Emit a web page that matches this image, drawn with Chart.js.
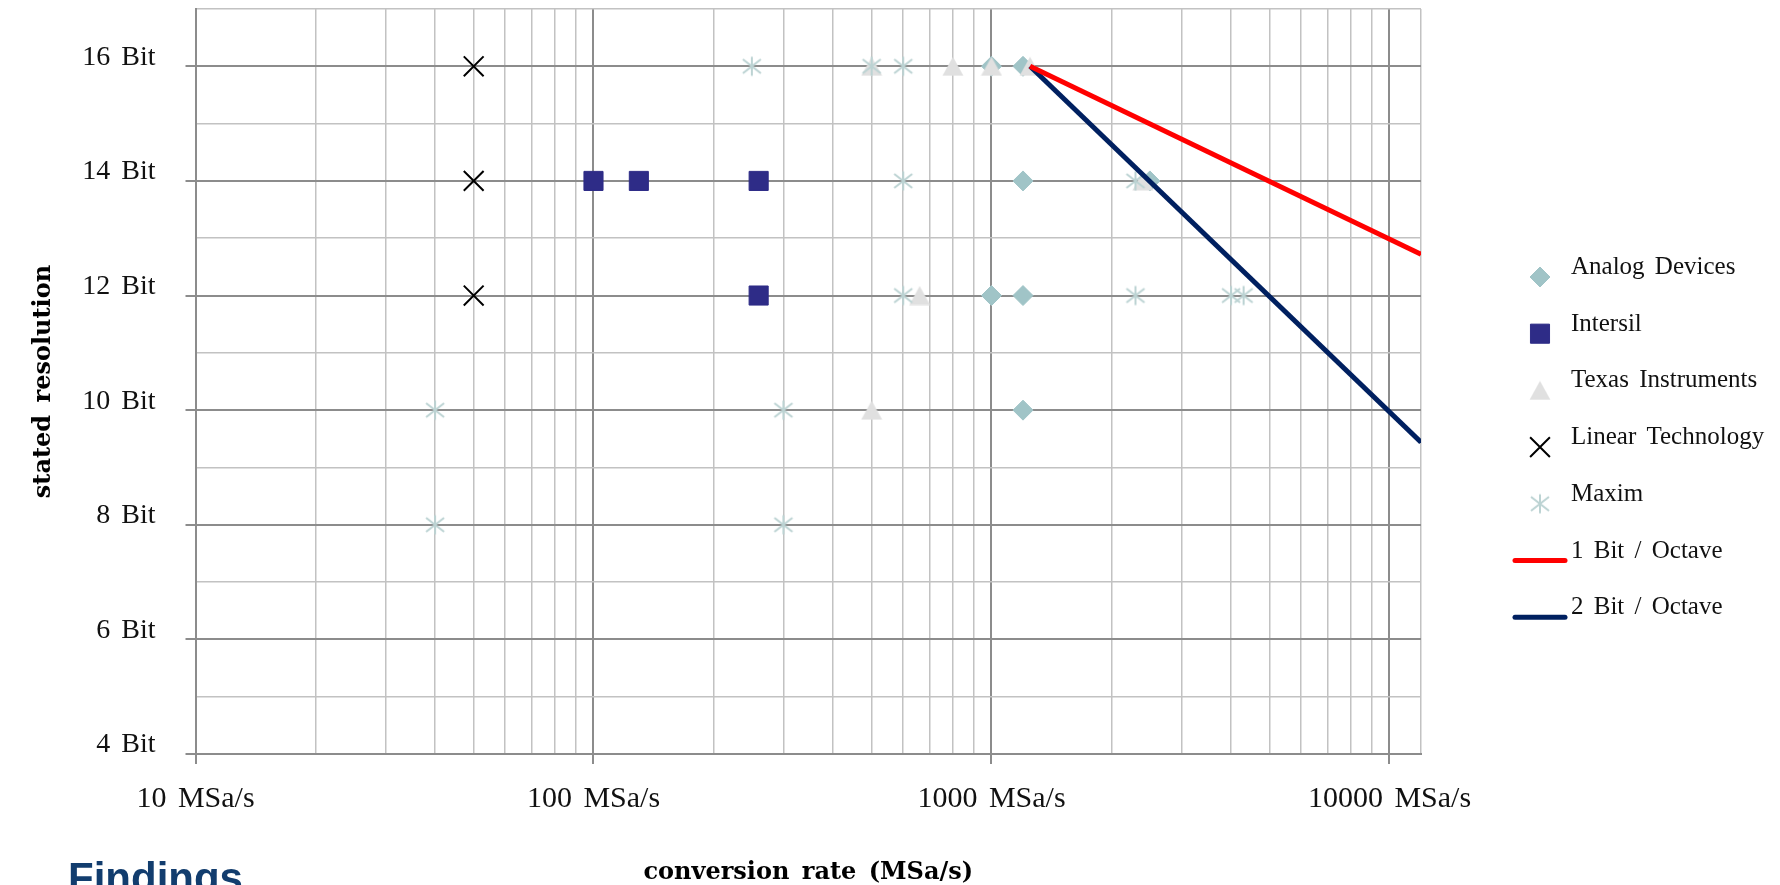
<!DOCTYPE html>
<html>
<head>
<meta charset="utf-8">
<title>ADC resolution vs. conversion rate</title>
<script src="https://cdn.jsdelivr.net/npm/chart.js@4.4.1/dist/chart.umd.min.js"></script>
<style>
  html, body { margin: 0; padding: 0; background: #fff; overflow: hidden; }
  #wrap { position: relative; width: 1780px; height: 885px; overflow: hidden; }
  #chart { position: absolute; left: 0; top: 0; }
  #findings {
    position: absolute; left: 68px; top: 857px; margin: 0;
    font: bold 42px 'Liberation Sans', Arial, sans-serif; line-height: 1;
    color: #123d6e;
  }
</style>
</head>
<body>
<div id="wrap">
  <canvas id="chart" width="1780" height="885"></canvas>
  <h2 id="findings">Findings</h2>
</div>
<script>
'use strict';

// ── Data: conversion rate (MSa/s) and stated resolution (bit) per vendor ──
const analogRate   = [1000, 1200, 1200, 2500, 1000, 1200, 1200];
const analogBits   = [16, 16, 14, 14, 12, 12, 10];

const intersilRate = [100, 130, 260, 260];
const intersilBits = [14, 14, 14, 12];

const tiRate       = [500, 800, 1000, 1250, 2400, 660, 500];
const tiBits       = [16, 16, 16, 16, 14, 12, 10];

const linearRate   = [50, 50, 50];
const linearBits   = [16, 14, 12];

const maximRate    = [250, 500, 600, 600, 2300, 600, 2300, 4000, 4300, 40, 300, 40, 300];
const maximBits    = [16, 16, 16, 14, 14, 12, 12, 12, 12, 10, 10, 8, 8];

// reference slopes, starting at 1250 MSa/s / 16 bit
const slopeRate    = [1250, 12000];
const oneBitOct    = [16, 12.72];
const twoBitOct    = [16, 9.44];

// ── Axes ───────────────────────────────────────────────────────
const X_MIN = 10;
const X_MAX = 12000;
const Y_MIN = 4;
const Y_MAX = 17;

const xTickValues = [10, 100, 1000, 10000];
const xTickLabels = ['10 MSa/s', '100 MSa/s', '1000 MSa/s', '10000 MSa/s'];
const yTickValues = [4, 6, 8, 10, 12, 14, 16];
const yTickLabels = ['4 Bit', '6 Bit', '8 Bit', '10 Bit', '12 Bit', '14 Bit', '16 Bit'];

// ── Style constants ────────────────────────────────────────────
const TEXT_FONT  = "'Liberation Serif', 'Times New Roman', serif";
const TITLE_FONT = "'DejaVu Serif', serif";
const MAJOR_GRID = '#8c8c8c';
const MINOR_GRID = '#c2c2c2';

// log grid: 1..9 within every decade, plus the right edge
const xGridValues = [];
xTickValues.forEach(d => {
  for (let k = 1; k <= 9; k++) {
    if (k * d <= X_MAX) xGridValues.push(k * d);
  }
});
if (!xGridValues.includes(X_MAX)) xGridValues.push(X_MAX);

const isDecade = v => xTickValues.includes(v);
const isEvenBit = v => yTickValues.includes(v);

const pts = (xs, ys) => xs.map((x, i) => ({ x, y: ys[i] }));

// ── Marker images not available as built-in point styles ──────
function markerCanvas(w, h, draw) {
  const c = document.createElement('canvas');
  c.width = w;
  c.height = h;
  draw(c.getContext('2d'), w, h);
  return c;
}

const triangleMarker = markerCanvas(22, 20, (g, w, h) => {
  g.fillStyle = '#e0e0e0';
  g.beginPath();
  g.moveTo(w / 2, 0.5);
  g.lineTo(w - 0.5, h - 0.5);
  g.lineTo(0.5, h - 0.5);
  g.closePath();
  g.fill();
});

const asteriskMarker = markerCanvas(22, 22, g => {
  g.strokeStyle = '#bcd3d3';
  g.lineWidth = 2;
  g.beginPath();
  g.moveTo(11, 1.5); g.lineTo(11, 20.5);
  g.moveTo(2, 4);    g.lineTo(20, 18);
  g.moveTo(20, 4);   g.lineTo(2, 18);
  g.stroke();
});

// ── Plugins ────────────────────────────────────────────────────
const wordSpacingPlugin = {
  id: 'wordSpacing',
  beforeDraw(chart) {
    chart.ctx.wordSpacing = '4px';
  },
};

const LEGEND_X     = 1540;
const LEGEND_TEXT  = 1571;
const LEGEND_TOP   = 277;
const LEGEND_STEP  = 56.7;

const sideLegendPlugin = {
  id: 'sideLegend',
  afterDraw(chart) {
    const { ctx } = chart;
    ctx.save();
    chart.data.datasets.forEach((ds, i) => {
      const y = LEGEND_TOP + i * LEGEND_STEP;
      if (ds.showLine) {
        ctx.strokeStyle = ds.borderColor;
        ctx.lineWidth   = ds.borderWidth;
        ctx.lineCap     = 'round';
        ctx.beginPath();
        ctx.moveTo(LEGEND_X - 25, y);
        ctx.lineTo(LEGEND_X + 25, y);
        ctx.stroke();
      } else {
        ctx.fillStyle   = ds.backgroundColor;
        ctx.strokeStyle = ds.borderColor;
        ctx.lineWidth   = ds.borderWidth;
        Chart.helpers.drawPoint(ctx, {
          pointStyle:  ds.pointStyle,
          radius:      ds.pointRadius,
          borderWidth: ds.borderWidth,
          rotation:    0,
        }, LEGEND_X, y);
      }
      ctx.fillStyle    = '#111';
      ctx.font         = `25px ${TEXT_FONT}`;
      ctx.textAlign    = 'left';
      ctx.textBaseline = 'alphabetic';
      ctx.fillText(ds.label, LEGEND_TEXT, y - 3);
    });
    ctx.restore();
  },
};

// ── Datasets ───────────────────────────────────────────────────
function pointSet(label, data, style, color, extra = {}) {
  return {
    label,
    data,
    pointStyle:       style,
    backgroundColor:  color,
    borderColor:      color,
    borderWidth:      1,
    pointRadius:      10,
    pointHoverRadius: 10,
    ...extra,
  };
}

function slopeSet(label, ys, color) {
  return {
    label,
    data:            pts(slopeRate, ys),
    showLine:        true,
    borderColor:     color,
    backgroundColor: color,
    borderWidth:     5,
    pointRadius:     0,
    pointHoverRadius: 0,
    order:           0,
  };
}

const datasets = [
  pointSet('Analog Devices', pts(analogRate, analogBits), 'rectRot', '#a0c4c7', { order: 5 }),
  pointSet('Intersil', pts(intersilRate, intersilBits), 'rect', '#2e2c87', { order: 4, pointRadius: 13.5, pointHoverRadius: 13.5 }),
  pointSet('Texas Instruments', pts(tiRate, tiBits), triangleMarker, '#e0e0e0', { order: 3 }),
  pointSet('Linear Technology', pts(linearRate, linearBits), 'crossRot', '#000000', { order: 2, borderWidth: 2, pointRadius: 14, pointHoverRadius: 14 }),
  pointSet('Maxim', pts(maximRate, maximBits), asteriskMarker, '#bcd3d3', { order: 1 }),
  slopeSet('1 Bit / Octave', oneBitOct, '#ff0000'),
  slopeSet('2 Bit / Octave', twoBitOct, '#002060'),
];

// ── Chart ──────────────────────────────────────────────────────
new Chart(document.getElementById('chart'), {
  type: 'scatter',
  data: { datasets },
  options: {
    responsive: false,
    animation:  false,
    events:     [],
    layout: {
      autoPadding: false,
      padding: { top: 9, right: 359, bottom: 0, left: 0 },
    },
    plugins: {
      legend:  { display: false },
      tooltip: { enabled: false },
    },
    scales: {
      x: {
        type: 'logarithmic',
        min:  X_MIN,
        max:  X_MAX,
        afterBuildTicks: scale => {
          scale.ticks = xGridValues.map(v => ({ value: v }));
        },
        afterFit: scale => {
          scale.height = 131;
          scale.paddingLeft = 0;
          scale.paddingRight = 0;
        },
        border: { display: true, color: MAJOR_GRID, width: 2 },
        grid: {
          color:      c => (c.tick && isDecade(c.tick.value) ? MAJOR_GRID : MINOR_GRID),
          lineWidth:  c => (c.tick && isDecade(c.tick.value) ? 2 : 1.5),
          tickColor:  c => (c.tick && isDecade(c.tick.value) ? MAJOR_GRID : 'rgba(0,0,0,0)'),
          tickWidth:  2,
          tickLength: 10,
        },
        ticks: {
          autoSkip:    false,
          maxRotation: 0,
          padding:     17,
          color:       '#111',
          font:        { family: TEXT_FONT, size: 30 },
          callback:    v => {
            const i = xTickValues.indexOf(v);
            return i >= 0 ? xTickLabels[i] : '';
          },
        },
        title: {
          display: true,
          text:    'conversion rate (MSa/s)',
          color:   '#000',
          font:    { family: TITLE_FONT, size: 24, weight: 'bold', lineHeight: 1 },
          padding: { top: 0, bottom: 0 },
        },
      },
      y: {
        type: 'linear',
        min:  Y_MIN,
        max:  Y_MAX,
        afterFit: scale => {
          scale.width = 195.5;
          scale.paddingTop = 0;
          scale.paddingBottom = 0;
        },
        border: { display: true, color: MAJOR_GRID, width: 2 },
        grid: {
          color:      c => (c.tick && isEvenBit(c.tick.value) ? MAJOR_GRID : MINOR_GRID),
          lineWidth:  c => (c.tick && isEvenBit(c.tick.value) ? 2 : 1.5),
          tickColor:  c => (c.tick && isEvenBit(c.tick.value) ? MAJOR_GRID : 'rgba(0,0,0,0)'),
          tickWidth:  2,
          tickLength: 10,
        },
        ticks: {
          stepSize:    1,
          autoSkip:    false,
          padding:     30,
          labelOffset: -9,
          color:       '#111',
          font:        { family: TEXT_FONT, size: 28 },
          callback:    v => {
            const i = yTickValues.indexOf(v);
            return i >= 0 ? yTickLabels[i] : '';
          },
        },
        title: {
          display: true,
          text:    'stated resolution',
          color:   '#000',
          font:    { family: TITLE_FONT, size: 24, weight: 'bold' },
          padding: { top: 29, bottom: 0 },
        },
      },
    },
  },
  plugins: [wordSpacingPlugin, sideLegendPlugin],
});
</script>
</body>
</html>
